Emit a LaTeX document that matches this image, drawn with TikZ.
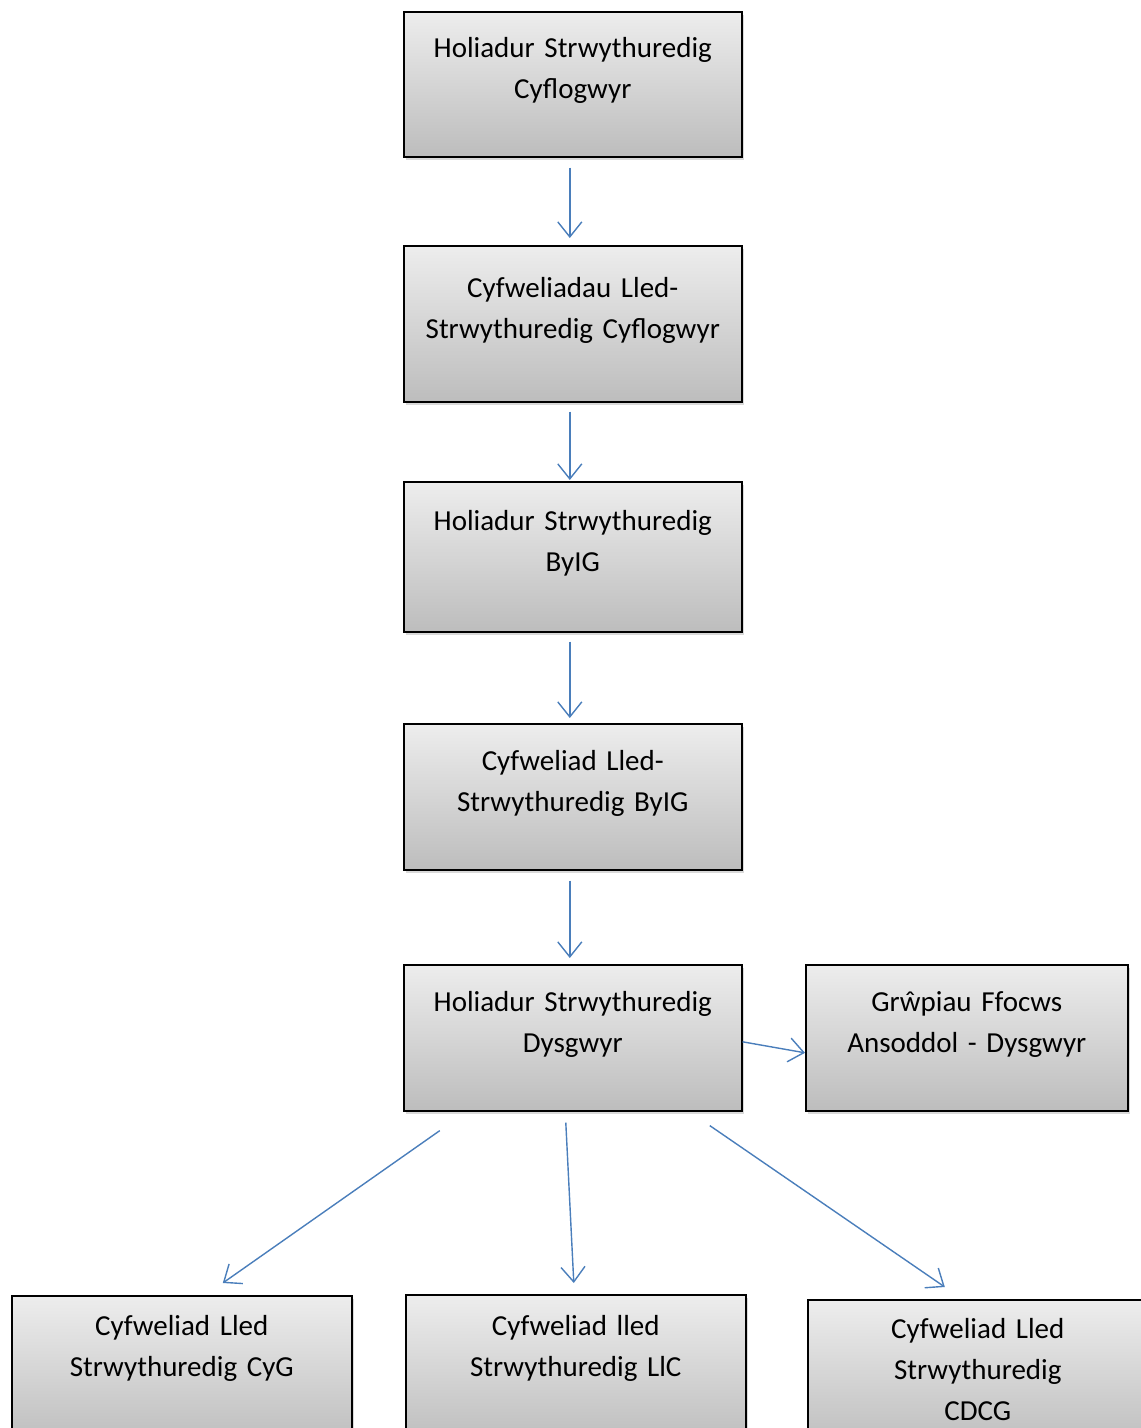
\documentclass[tikz,border=0pt]{standalone}
\usepackage{fontspec}
\setmainfont{Carlito}[WordSpace=0.85]
\usepackage{tikz}
\usetikzlibrary{arrows.meta}
\usetikzlibrary{shadows}
\definecolor{arrowblue}{RGB}{74,126,187}

\tikzset{
	box/.style={draw=black, line width=1.6pt, top color=white!93!black, bottom color=white!74!black,
		drop shadow={shadow xshift=2pt, shadow yshift=-3pt, opacity=0.3},
		anchor=north west, inner sep=0pt, align=center, font=\fontsize{29}{41}\selectfont},
	conn/.style={draw=arrowblue, line width=1.4pt, -{Straight Barb[length=15pt,width=24pt,line width=1.4pt]}}
}

\begin{document}
\begin{tikzpicture}[x=1pt,y=-1pt]
	\useasboundingbox (0,0) rectangle (1141,1428);
	\node [box, text width=338pt, text height=46pt, text depth=99pt] (q1) at (403,11) {Holiadur Strwythuredig\\Cyflogwyr};
	\node [box, text width=338pt, text height=51.5pt, text depth=104.5pt] (q2) at (403,245) {Cyfweliadau Lled-\\Strwythuredig Cyflogwyr};
	\node [box, text width=338pt, text height=48.5pt, text depth=101.5pt] (q3) at (403,481) {Holiadur Strwythuredig\\ByIG};
	\node [box, text width=338pt, text height=46.5pt, text depth=99.5pt] (q4) at (403,723) {Cyfweliad Lled-\\Strwythuredig ByIG};
	\node [box, text width=338pt, text height=46.5pt, text depth=99.5pt] (q5) at (403,964) {Holiadur Strwythuredig\\Dysgwyr};
	\node [box, text width=322pt, text height=46.5pt, text depth=99.5pt] (q6) at (805,964) {Grŵpiau Ffocws\\Ansoddol - Dysgwyr};
	\node [box, text width=340pt, text height=39.5pt, text depth=110.5pt] (q7) at (11,1295) {Cyfweliad Lled\\Strwythuredig CyG};
	\node [box, text width=340pt, text height=40.5pt, text depth=109.5pt] (q8) at (405,1294) {Cyfweliad lled\\Strwythuredig LlC};
	\node [box, text width=340pt, text height=38.5pt, text depth=111.5pt] (q9) at (807,1299) {Cyfweliad Lled\\Strwythuredig\\CDCG};

	\draw [conn] ([xshift=-3pt,yshift=-10pt]q1.south) -- ([xshift=-3pt,yshift=7pt]q2.north);
	\draw [conn] ([xshift=-3pt,yshift=-9pt]q2.south) -- ([xshift=-3pt,yshift=1pt]q3.north);
	\draw [conn] ([xshift=-3pt,yshift=-9pt]q3.south) -- ([xshift=-3pt,yshift=5pt]q4.north);
	\draw [conn] ([xshift=-3pt,yshift=-10pt]q4.south) -- ([xshift=-3pt,yshift=6pt]q5.north);
	\draw [conn] ([yshift=-4pt]q5.east) -- ([yshift=-15pt]q6.west);
	\draw [conn] ([xshift=-133pt,yshift=-19pt]q5.south) -- ([xshift=41pt,yshift=12pt]q7.north);
	\draw [conn] ([xshift=-7pt,yshift=-11pt]q5.south) -- ([xshift=-2pt,yshift=11pt]q8.north);
	\draw [conn] ([xshift=137pt,yshift=-14pt]q5.south) -- ([xshift=-33pt,yshift=12pt]q9.north);
\end{tikzpicture}
\end{document}
